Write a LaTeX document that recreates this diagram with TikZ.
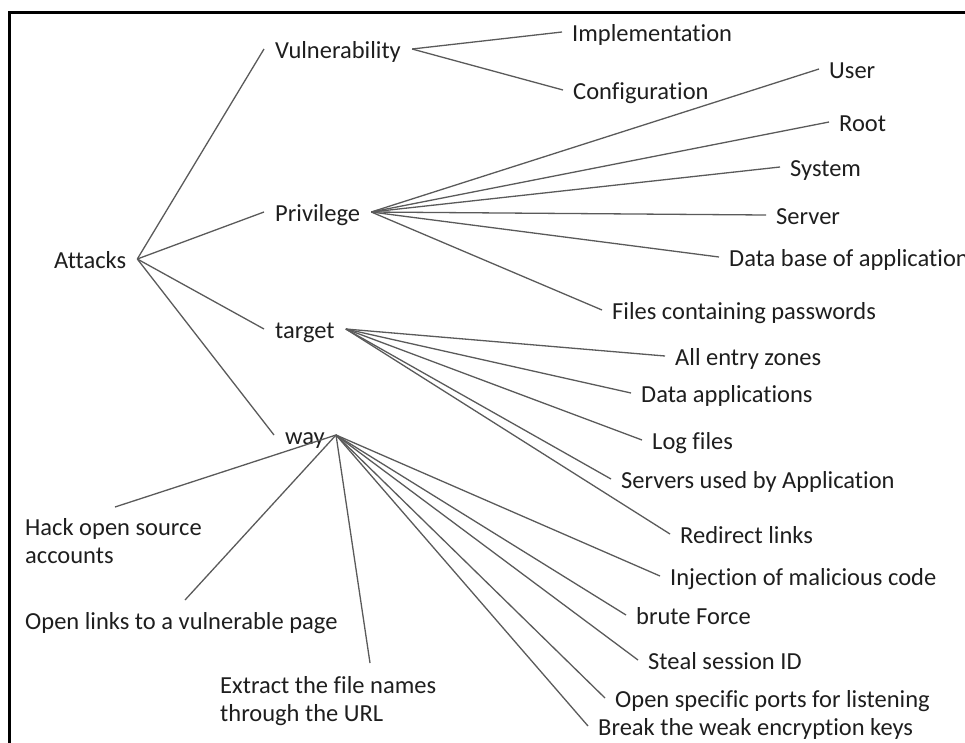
\documentclass[tikz,border=0pt]{standalone}
\usepackage{fontspec}
\setmainfont{Carlito}[Ligatures={NoCommon}]
\definecolor{txt}{HTML}{1E1E1E}
\definecolor{ln}{HTML}{5A5A5A}
\begin{document}
\begin{tikzpicture}[x=1pt,y=-1pt,
  lbl/.style={anchor=west,inner xsep=10pt,inner ysep=0pt,text height=21pt,text depth=3pt,font=\fontsize{24.5}{28}\selectfont,text=txt},
  parent/.style={lbl,inner xsep=11pt},
  multi/.style={anchor=base west,inner sep=0pt,align=left,font=\fontsize{24.5}{28}\selectfont,text=txt},
  link/.style={draw=ln,line width=1.3pt},
  frame/.style={draw=black,line width=3pt}]
\useasboundingbox (0,0) rectangle (965,742);
\clip (0,0) rectangle (965,742);
\draw[frame] (966,12) -- (9,12) -- (9,744);

% parents
\node[parent] (attacks) at (43,259) {Attacks};
\node[parent] (vul) at (264,49) {Vulnerability};
\node[parent] (priv) at (264,212) {Privilege};
\node[parent] (target) at (264,329) {target};
\node[parent] (way) at (274,435) {way};

% vulnerability children
\node[lbl] (impl) at (562,32) {Implementation};
\node[lbl] (conf) at (563,90) {Configuration};

% privilege children
\node[lbl] (user) at (819,69) {User};
\node[lbl] (root) at (829,122) {Root};
\node[lbl] (system) at (780,167) {System};
\node[lbl] (server) at (766,215) {Server};
\node[lbl] (database) at (719,257) {Data base of application};
\node[lbl] (files) at (602,310) {Files containing passwords};

% target children
\node[lbl] (entry) at (665,356) {All entry zones};
\node[lbl] (dataapp) at (631,393) {Data applications};
\node[lbl] (log) at (642,440) {Log files};
\node[lbl] (servers) at (611,479) {Servers used by Application};
\node[lbl] (redirect) at (670,534) {Redirect links};

% way children
\node[lbl] (inject) at (660,576) {Injection of malicious code};
\node[lbl] (brute) at (626,615) {brute Force};
\node[lbl] (steal) at (638,660) {Steal session ID};
\node[lbl] (ports) at (605,698) {Open specific ports for listening};
\node[lbl] (break) at (588,726) {Break the weak encryption keys};
\node[multi] (hack) at (25,563) {Hack open source\\accounts};
\node[multi] (openlinks) at (25,629) {Open links to a vulnerable page};
\node[multi] (extract) at (220,721) {Extract the file names\\through the URL};
\coordinate (hackE) at (115,507);
\coordinate (openE) at (185,600);
\coordinate (extractE) at (370,663);

% connectors
\foreach \c in {vul,priv,target,way} \draw[link] (attacks.east) -- (\c.west);
\foreach \c in {impl,conf} \draw[link] (vul.east) -- (\c.west);
\foreach \c in {user,root,system,server,database,files} \draw[link] (priv.east) -- (\c.west);
\foreach \c in {entry,dataapp,log,servers,redirect} \draw[link] (target.east) -- (\c.west);
\foreach \c in {inject,brute,steal,ports,break} \draw[link] (way.east) -- (\c.west);
\draw[link] (way.east) -- (hackE);
\draw[link] (way.east) -- (openE);
\draw[link] (way.east) -- (extractE);
\end{tikzpicture}
\end{document}
